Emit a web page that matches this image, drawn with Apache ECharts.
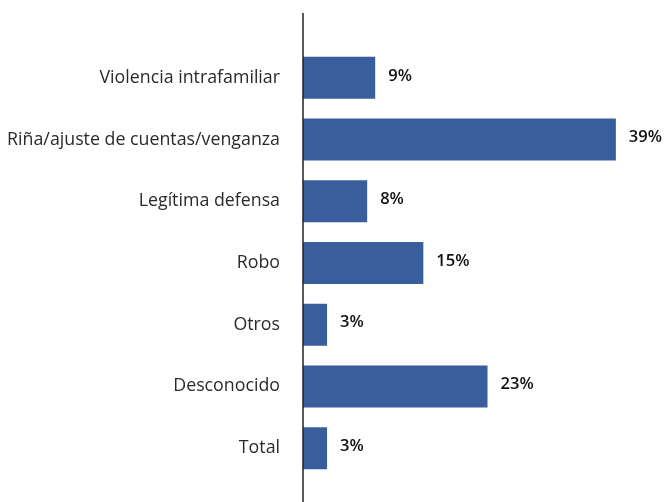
<!DOCTYPE html>
<html>
<head>
<meta charset="utf-8">
<script src="https://cdn.jsdelivr.net/npm/echarts@6/dist/echarts.min.js"></script>
<style>
  html, body { margin: 0; padding: 0; background: #fff; }
  #chart { width: 665px; height: 502px; }
</style>
</head>
<body>
<div id="chart"></div>
<script>
// categorias y porcentajes
const categories = ['Violencia intrafamiliar', 'Riña/ajuste de cuentas/venganza', 'Legítima defensa', 'Robo', 'Otros', 'Desconocido', 'Total'];
const values = [9, 39, 8, 15, 3, 23, 3];

const chart = echarts.init(document.getElementById('chart'));

const option = {
  animation: false,
  grid: {
    left: 303,
    width: 361,
    top: 47,
    bottom: 23
  },
  xAxis: {
    type: 'value',
    min: 0,
    max: 45,
    show: false
  },
  yAxis: {
    type: 'category',
    data: categories,
    inverse: true,
    axisLine: { show: false },
    axisTick: { show: false },
    axisLabel: {
      margin: 23,
      color: '#2a2a2a',
      fontSize: 17.8,
      fontFamily: 'Open Sans'
    }
  },
  // linea vertical del eje, mas larga que la zona de barras
  graphic: [
    {
      type: 'line',
      shape: { x1: 303, y1: 13, x2: 303, y2: 502 },
      style: { stroke: '#222', lineWidth: 1.5 },
      z: 10
    }
  ],
  series: [
    {
      type: 'bar',
      data: values,
      barWidth: 42,
      itemStyle: { color: '#3A5D9B' },
      label: {
        show: true,
        position: 'right',
        distance: 13,
        offset: [0, -2],
        formatter: '{c}%',
        color: '#111',
        fontSize: 16.5,
        fontWeight: 600,
        fontFamily: 'Open Sans'
      }
    }
  ]
};

chart.setOption(option);
</script>
</body>
</html>
